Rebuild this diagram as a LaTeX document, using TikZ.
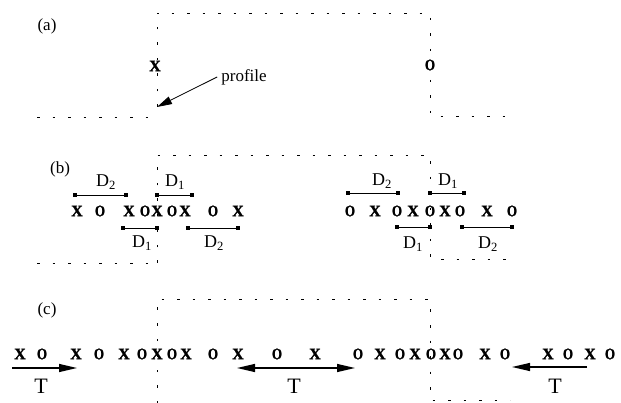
\documentclass[tikz,border=0pt]{standalone}
\usepackage{fontspec}
\setmainfont{Liberation Serif}
\newfontfamily\markfont{Liberation Serif Bold}[FakeBold=1.6]
\usetikzlibrary{arrows.meta}
\newcommand{\markO}{\scalebox{0.8}[1]{O}}
\begin{document}
\begin{tikzpicture}[x=1pt,y=-1pt,
  prof/.style={line width=0.8pt, dash pattern=on 2.5pt off 13pt},
  lab/.style={font=\fontsize{17}{19}\selectfont, inner sep=0pt},
  mk/.style={font=\markfont\fontsize{16}{18}\selectfont, inner sep=0pt},
  dim/.style={line width=0.9pt},
  endsq/.style={fill, minimum size=3.4pt, inner sep=0pt},
  arr/.style={line width=1.3pt, -{Triangle[length=18pt,width=8pt]}},
  darr/.style={line width=1.3pt, {Triangle[length=18pt,width=8pt]}-{Triangle[length=18pt,width=8pt]}},
  dl/.style={font=\fontsize{18}{20}\selectfont, inner sep=0pt},
  tl/.style={font=\fontsize{22}{24}\selectfont, inner sep=0pt},
]
\useasboundingbox (0,0) rectangle (621,403);
% ---------------- (a)
\node[lab] (la) at (47,26) {(a)};
\coordinate (a1) at (37,117); \coordinate (a2) at (148,117);
\coordinate (a3) at (157,107); \coordinate (a4) at (157,13);
\coordinate (a5) at (430,13); \coordinate (a6) at (430,116);
\coordinate (a7) at (508,116);
\draw[prof] (a1) -- (a2);
\draw[prof] (a3) -- (a4) -- (a5) -- (a6) -- (a7);
\node[mk,fill=white,inner ysep=1pt] (ax) at (155,66) {X};
\node[mk,fill=white,inner ysep=1pt] (ao) at (430,65) {\markO};
\node[font=\fontsize{17}{19}\selectfont, inner sep=0pt] (prof) at (244,77) {profile};
\draw[line width=0.8pt, -{Triangle[length=15pt,width=8pt]}] (prof.west) ++(-4,0) coordinate (pt) -- (a3);
% ---------------- (b)
\node[lab] (lb) at (60,169) {(b)};
\coordinate (b1) at (37,263); \coordinate (b2) at (148,263);
\coordinate (b3) at (157,263); \coordinate (b4) at (157,155);
\coordinate (b5) at (430,155); \coordinate (b6) at (430,259);
\coordinate (b7) at (512,259);
\draw[prof] (b1) -- (b2);
\draw[prof] (b3) -- (b4) -- (b5) -- (b6) -- (b7);
\foreach \x [count=\i] in {77,100,129,145,157,172,185,213,238}
  \node[mk] (bl\i) at (\x,211) {\ifodd\i X\else\markO\fi};
\foreach \x [count=\i] in {350,375,397,413,430,445,460,487,512}
  \node[mk] (br\i) at (\x,211) {\ifodd\i\markO\else X\fi};
% dimension bars, left group
\node[endsq] (p1) at (75,195) {};  \node[endsq] (p2) at (126,195) {};
\node[endsq] (p3) at (157,195) {}; \node[endsq] (p4) at (192,195) {};
\node[endsq] (p5) at (123,228) {}; \node[endsq] (p6) at (157,228) {};
\node[endsq] (p7) at (188,228) {}; \node[endsq] (p8) at (238,228) {};
\draw[dim] (p1.center) -- (p2.center);
\draw[dim] (p3.center) -- (p4.center);
\draw[dim] (p5.center) -- (p6.center);
\draw[dim] (p7.center) -- (p8.center);
\node[dl] (dA) at (106,182) {D\textsubscript{2}};
\node[dl] (dB) at (175,182) {D\textsubscript{1}};
\node[dl] (dC) at (142,243) {D\textsubscript{1}};
\node[dl] (dD) at (214,243) {D\textsubscript{2}};
% dimension bars, right group
\node[endsq] (q1) at (348,193) {}; \node[endsq] (q2) at (398,193) {};
\node[endsq] (q3) at (430,193) {}; \node[endsq] (q4) at (464,193) {};
\node[endsq] (q5) at (397,227) {}; \node[endsq] (q6) at (430,227) {};
\node[endsq] (q7) at (462,227) {}; \node[endsq] (q8) at (512,227) {};
\draw[dim] (q1.center) -- (q2.center);
\draw[dim] (q3.center) -- (q4.center);
\draw[dim] (q5.center) -- (q6.center);
\draw[dim] (q7.center) -- (q8.center);
\node[dl] (eA) at (382,181) {D\textsubscript{2}};
\node[dl] (eB) at (448,181) {D\textsubscript{1}};
\node[dl] (eC) at (413,244) {D\textsubscript{1}};
\node[dl] (eD) at (488,244) {D\textsubscript{2}};
% ---------------- (c)
\node[lab] (lc) at (47,310) {(c)};
\coordinate (c3) at (157,403); \coordinate (c4) at (157,299);
\coordinate (c5) at (430,299); \coordinate (c6) at (430,400);
\coordinate (c7) at (510,400);
\draw[prof] (c3) -- (c4) -- (c5) -- (c6) -- (c7);
\foreach \x [count=\i] in {20,42,76,99,124,142,157,172,186,213,238,277,315,358,380,400,415,431,445,458,485,505,548,568,590,610}
  \node[mk] (cl\i) at (\x,354) {\ifodd\i X\else\markO\fi};
\coordinate (t1s) at (12,368); \coordinate (t1e) at (77,368);
\coordinate (t2s) at (237,368); \coordinate (t2e) at (355,368);
\coordinate (t3s) at (587,367); \coordinate (t3e) at (512,367);
\draw[arr] (t1s) -- (t1e);
\draw[darr] (t2s) -- (t2e);
\draw[arr] (t3s) -- (t3e);
\node[tl] (T1) at (41,386) {T};
\node[tl] (T2) at (294,386) {T};
\node[tl] (T3) at (555,386) {T};
\end{tikzpicture}
\end{document}
